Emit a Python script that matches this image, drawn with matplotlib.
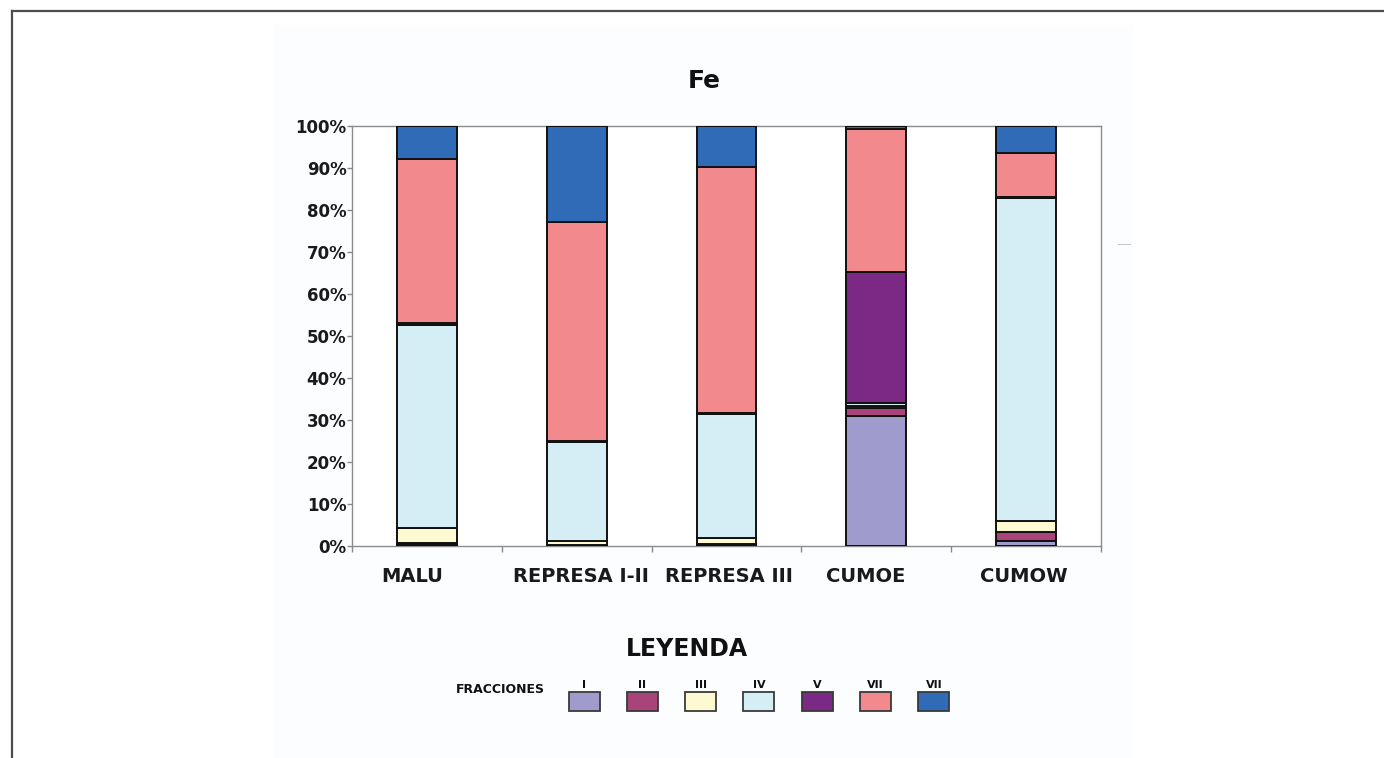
import matplotlib
matplotlib.use("Agg")
import matplotlib.pyplot as plt
import matplotlib.transforms as mtransforms
from matplotlib.patches import Rectangle
from matplotlib.lines import Line2D
import numpy as np

# Sites and fraction shares (% of total Fe)
sites = ["MALU", "REPRESA I-II", "REPRESA III", "CUMOE", "CUMOW"]
fraction_labels = ["I", "II", "III", "IV", "V", "VII", "VII"]

frac_I   = [0.3, 0.1, 0.2, 31.0, 1.2]
frac_II  = [0.3, 0.1, 0.2, 1.9, 2.2]
frac_III = [3.8, 0.9, 1.6, 0.5, 2.6]
frac_IV  = [48.2, 23.7, 29.4, 0.6, 76.8]
frac_V   = [0.4, 0.2, 0.2, 31.2, 0.4]
frac_VI  = [39.2, 52.2, 58.7, 34.0, 10.4]
frac_VII = [7.8, 22.8, 9.7, 0.8, 6.4]

yticks = list(range(0, 101, 10))
ytick_labels = [f"{v}%" for v in yticks]

colors = ["#9f9bcc", "#a8447a", "#fdf9d0", "#d5edf5", "#7b2984", "#f28a8d", "#2f6bb7"]

W, H = 1384, 758
fig = plt.figure(figsize=(W / 100, H / 100), dpi=100)
fig.patch.set_facecolor("white")

def fx(px):
    return px / W

def fy(py):
    return 1 - py / H

# faint panel behind the chart and the page frame
fig.add_artist(Rectangle((fx(273), fy(758)), fx(1133 - 273), (758 - 25) / H,
                         transform=fig.transFigure, facecolor="#fcfdfe",
                         edgecolor="none", zorder=0))
fig.add_artist(Line2D([fx(12), 1], [fy(11), fy(11)], transform=fig.transFigure,
                      color="#4d4d4d", lw=1.6))
fig.add_artist(Line2D([fx(12), fx(12)], [fy(11), 0], transform=fig.transFigure,
                      color="#4d4d4d", lw=1.6))
fig.add_artist(Line2D([fx(1118), fx(1130)], [fy(244), fy(244)], transform=fig.transFigure,
                      color="#c8c8c8", lw=0.8))

ax = fig.add_axes([fx(352), fy(546), fx(1101 - 352), (546 - 126) / H])
ax.set_facecolor("white")

x = np.arange(len(sites))
series = [frac_I, frac_II, frac_III, frac_IV, frac_V, frac_VI, frac_VII]
bottom = np.zeros(len(sites))
for vals, col in zip(series, colors):
    vals = np.array(vals)
    ax.bar(x, vals, 0.4, bottom=bottom, color=col, edgecolor="#111111",
           linewidth=1.4, zorder=3)
    bottom += vals

ax.set_xlim(-0.5, len(sites) - 0.5)
ax.set_ylim(0, 100)
ax.set_yticks(yticks)
ax.set_yticklabels(ytick_labels, fontsize=12, fontweight="bold", color="#1a1a1a")
ax.tick_params(axis="y", direction="out", length=3.5, width=1, color="#888888", pad=0.5)

ax.set_xticks(x)
ax.set_xticklabels(sites, fontsize=14, fontweight="bold", color="#1a1a1a")
ax.set_xticks(np.arange(-0.5, len(sites), 1.0), minor=True)
ax.tick_params(axis="x", which="major", length=0, pad=15)
ax.tick_params(axis="x", which="minor", direction="out", length=4, width=1, color="#888888")

# hand-placed category label nudges (points)
label_shift = [-10.4, 2.9, 1.8, -7.6, -1.8]
for lab, dx in zip(ax.get_xticklabels(), label_shift):
    lab.set_transform(lab.get_transform() +
                      mtransforms.ScaledTranslation(dx / 72, 0, fig.dpi_scale_trans))

for sp in ax.spines.values():
    sp.set_color("#8c8c8c")
    sp.set_linewidth(1.0)

fig.text(fx(704), fy(88), "Fe", ha="center", va="baseline",
         fontsize=18, fontweight="bold", color="#111111")

# legend block
fig.text(fx(687), fy(656), "LEYENDA", ha="center", va="baseline",
         fontsize=17, fontweight="bold", color="#111111")
fig.text(fx(545), fy(693), "FRACCIONES", ha="right", va="baseline",
         fontsize=9, fontweight="bold", color="#111111")
box_w, box_h = 31, 19
for i, (lab, col) in enumerate(zip(fraction_labels, colors)):
    cx = 584 + i * 58.3
    fig.add_artist(Rectangle((fx(cx - box_w / 2), fy(711)), fx(box_w), box_h / H,
                             transform=fig.transFigure, facecolor=col,
                             edgecolor="#3a3a3a", linewidth=1.3))
    fig.text(fx(cx), fy(688), lab, ha="center", va="baseline",
             fontsize=8, fontweight="bold", color="#111111")

fig.savefig("out.png", dpi=100)
